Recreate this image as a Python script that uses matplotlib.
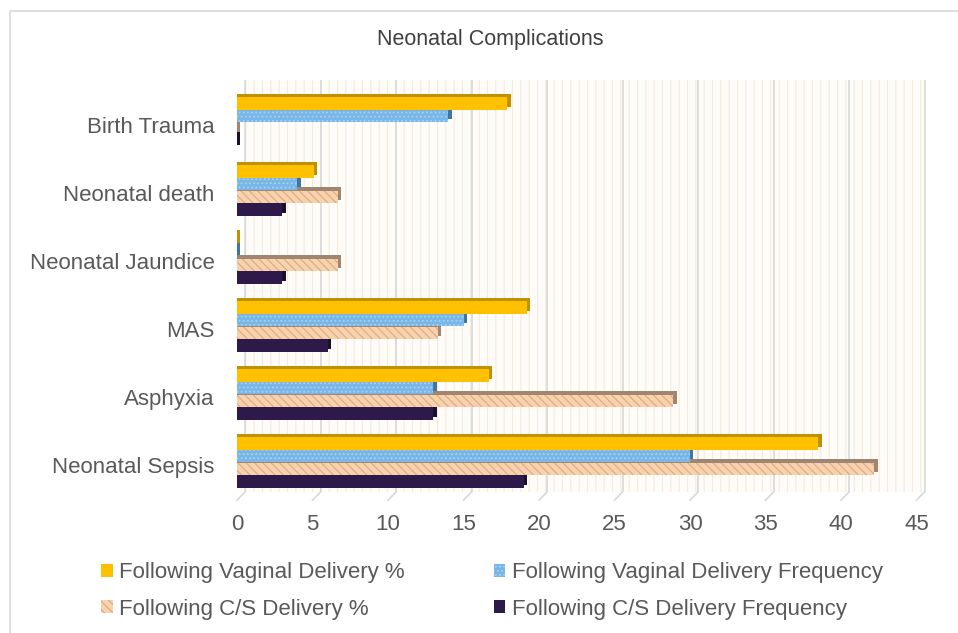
import matplotlib
matplotlib.use('Agg')
import matplotlib.pyplot as plt
import matplotlib.patches as mpatches
import numpy as np

# data
categories = ['Neonatal Sepsis', 'Asphyxia', 'MAS', 'Neonatal Jaundice', 'Neonatal death', 'Birth Trauma']
vag_pct = [38.5, 16.7, 19.2, 0.0, 5.1, 17.9]
vag_freq = [30, 13, 15, 0, 4, 14]
cs_pct = [42.2, 28.9, 13.3, 6.7, 6.7, 0.0]
cs_freq = [19, 13, 6, 3, 3, 0]
labels = ['Following Vaginal Delivery %', 'Following Vaginal Delivery Frequency',
          'Following C/S Delivery %', 'Following C/S Delivery Frequency']
xticks = [0, 5, 10, 15, 20, 25, 30, 35, 40, 45]

plt.rcParams['font.family'] = ['Liberation Sans', 'DejaVu Sans']
plt.rcParams['hatch.linewidth'] = 0.8
txt = '#595959'

fig = plt.figure(figsize=(9.58, 6.33), dpi=100)
W, H = 958, 633
ax = fig.add_axes([237 / W, (H - 492) / H, (926 - 237) / W, (492 - 80) / H])

# series style: face, hatch colour, hatch, shadow colour
series = [
    (vag_pct, '#ffc000', '#ffc000', None, '#bf9000'),
    (vag_freq, '#78b6e8', '#a9d2f2', '....', '#3f75a3'),
    (cs_pct, '#f6d2b0', '#e2a877', '\\\\\\\\', '#a08670'),
    (cs_freq, '#2e1a4a', '#3e2460', None, '#1a0f2c'),
]
offsets = [0.281, 0.094, -0.094, -0.281]
h = 0.1875
y = np.arange(len(categories))
depth_x, depth_y = 0.22, 0.045
back = 0.53

ax.set_xlim(0, (926 - 237) / 15.1)
ax.set_ylim(-0.434, 5.625)

# back wall with striped pattern
wall = mpatches.Rectangle((back, -0.434), 50, 7, facecolor='#fefcf9',
                          edgecolor='#f6eadd', hatch='||', lw=0, zorder=0)
ax.add_patch(wall)
for v in xticks:
    ax.axvline(v + back, color='#d9d9d9', lw=1.2, zorder=1)
    ax.plot([v + back, v], [-0.434, -0.434 - 0.12], color='#d9d9d9', lw=1.2,
            clip_on=False, zorder=1)

# shadows first (3d sides), then the fronts
for (vals, fc, hc, hatch, sc), off in zip(series, offsets):
    ax.barh(y + off + depth_y, np.array(vals) + depth_x, height=h, color=sc, lw=0, zorder=2)
for (vals, fc, hc, hatch, sc), off in zip(series, offsets):
    ax.barh(y + off, vals, height=h, facecolor=fc, edgecolor=hc, hatch=hatch, lw=0, zorder=3)

ax.set_yticks(y - 0.04)
ax.set_yticklabels(categories)
ax.set_xticks(xticks)
ax.tick_params(axis='y', length=0, pad=16, labelsize=16, labelcolor=txt)
ax.tick_params(axis='x', length=0, pad=16, labelsize=16, labelcolor=txt)
for s in ax.spines.values():
    s.set_visible(False)
ax.set_facecolor('none')

fig.text(490 / W, 1 - 40 / H, 'Neonatal Complications', ha='center', va='center',
         fontsize=15.5, color='#404040')

handles = [mpatches.Patch(facecolor=fc, edgecolor=hc, hatch=hatch, lw=0)
           for (vals, fc, hc, hatch, sc) in series]
# legend is filled row by row in the reference
order = [0, 2, 1, 3]
fig.legend([handles[i] for i in order], [labels[i] for i in order], ncol=2, loc='center',
           bbox_to_anchor=(492 / W, 1 - 591 / H),
           frameon=False, fontsize=16, labelcolor=txt, handlelength=0.5, handleheight=0.5,
           handletextpad=0.3, columnspacing=4.0, labelspacing=0.68)

# outer chart border
fig.patches.append(mpatches.Rectangle((10 / W, -0.1), 1.2, 1.1 - 11 / H, transform=fig.transFigure,
                                      facecolor='none', edgecolor='#d9d9d9', lw=1.2))

fig.savefig('out.png', dpi=100)
